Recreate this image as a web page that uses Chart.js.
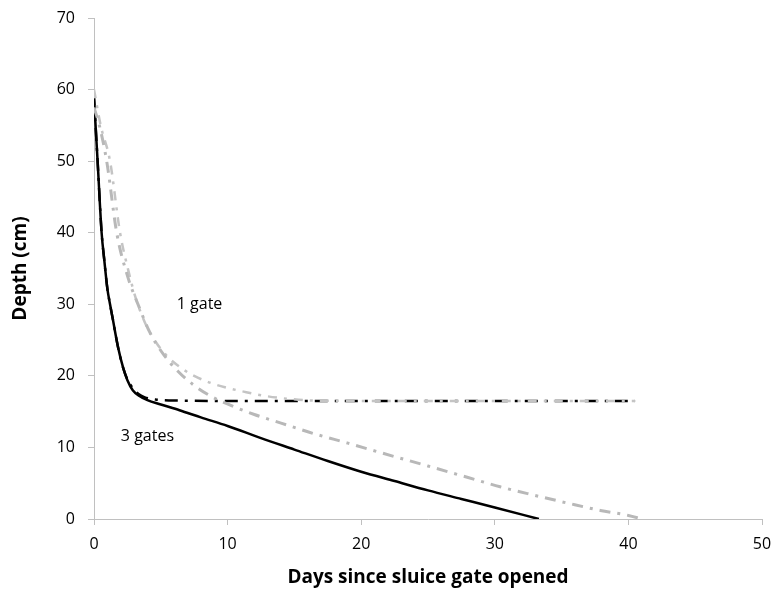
<!DOCTYPE html>
<html><head><meta charset="utf-8">
<script src="https://cdn.jsdelivr.net/npm/chart.js@4"></script>
<style>html,body{margin:0;padding:0;background:#fff}#wrap{width:772px;height:595px}</style>
</head><body><div id="wrap"><canvas id="c" width="772" height="595"></canvas></div>
<script>
// Days since opened / depth (cm)
const solid3Days  = [0, 0.27, 0.57, 0.78, 1.0, 1.2, 1.4, 1.8, 2.2, 2.5, 2.9, 3.4, 4.0, 5.0, 6.4, 8.0, 10, 12.5, 15, 17.5, 20, 22.5, 25, 27.5, 30, 33.3];
const solid3Depth = [58.8, 50, 40, 36, 32.2, 30, 28, 24, 21, 19.4, 18.0, 17.2, 16.6, 16.0, 15.2, 14.2, 13.0, 11.3, 9.7, 8.1, 6.6, 5.3, 4.0, 2.8, 1.6, 0];

const dash3Days  = [0, 0.27, 0.57, 0.78, 1.0, 1.2, 1.4, 1.8, 2.2, 2.5, 2.9, 3.3, 3.8, 4.6, 6, 10, 20, 30, 40.5];
const dash3Depth = [58.8, 50, 40, 36, 32.2, 30, 28, 24, 21, 19.5, 18.3, 17.5, 17.0, 16.7, 16.55, 16.5, 16.5, 16.5, 16.5];

const gray1aDays  = [0, 0.5, 1.2, 1.95, 2.6, 3.1, 3.8, 4.6, 5.5, 6.6, 7.5, 8.6, 9.8, 11.2, 12.8, 14.5, 16.5, 20, 30, 40.5];
const gray1aDepth = [60, 55, 50, 40, 34.5, 31, 27.5, 24.8, 22.7, 21.0, 20.0, 19.1, 18.4, 17.8, 17.2, 16.8, 16.55, 16.5, 16.5, 16.5];

const gray1bDays  = [0, 0.4, 0.95, 1.7, 2.5, 3.4, 4.2, 5.2, 6.3, 7.4, 8.7, 10.2, 12, 14, 16.5, 19, 21.4, 25, 28, 30.4, 33, 35.5, 37.9, 40, 41];
const gray1bDepth = [57.5, 55, 50, 40, 34, 29.5, 26, 23, 20.6, 18.8, 17.2, 15.9, 14.6, 13.4, 11.9, 10.6, 9.3, 7.4, 5.8, 4.5, 3.3, 2.2, 1.2, 0.5, 0];

const xTicks = [0, 10, 20, 30, 40, 50];
const yTicks = [0, 10, 20, 30, 40, 50, 60, 70];

const labels = [
  {text: '1 gate', x: 7.9, y: 30.0},
  {text: '3 gates', x: 4.0, y: 11.6}
];

const pts = (xs, ys) => xs.map((x, i) => ({x: x, y: ys[i]}));

const labelPlugin = {
  id: 'lbl',
  afterDatasetsDraw(chart) {
    const ctx = chart.ctx, xs = chart.scales.x, ys = chart.scales.y;
    ctx.save();
    ctx.font = '16px "Open Sans"';
    ctx.fillStyle = '#000';
    ctx.textAlign = 'center';
    ctx.textBaseline = 'middle';
    labels.forEach(l => ctx.fillText(l.text, xs.getPixelForValue(l.x), ys.getPixelForValue(l.y)));
    ctx.restore();
  }
};

const axisCommon = {
  border: {display: true, color: '#c0c0c0', width: 1},
  grid: {display: true, drawOnChartArea: false, drawTicks: true, tickLength: 6, color: '#c0c0c0'},
  ticks: {color: '#000', font: {family: '"Open Sans"', size: 16}}
};

new Chart(document.getElementById('c'), {
  type: 'line',
  data: {
    datasets: [
      {data: pts(gray1bDays, gray1bDepth), borderColor: '#b8b8b8', borderWidth: 3, borderDash: [11, 7, 3, 7], cubicInterpolationMode: 'monotone', pointRadius: 0, fill: false},
      {data: pts(gray1aDays, gray1aDepth), borderColor: '#c4c4c4', borderWidth: 2.5, borderDash: [9, 7, 3, 7], cubicInterpolationMode: 'monotone', pointRadius: 0, fill: false},
      {data: pts(solid3Days, solid3Depth), borderColor: '#000', borderWidth: 2.5, cubicInterpolationMode: 'monotone', pointRadius: 0, fill: false},
      {data: pts(dash3Days, dash3Depth), borderColor: '#000', borderWidth: 2.5, borderDash: [13, 7, 3, 7], cubicInterpolationMode: 'monotone', pointRadius: 0, fill: false}
    ]
  },
  options: {
    responsive: false,
    animation: false,
    layout: {padding: {top: 18, right: 10, bottom: 2, left: 5}},
    plugins: {legend: {display: false}, tooltip: {enabled: false}},
    scales: {
      x: Object.assign({}, axisCommon, {
        type: 'linear', min: 0, max: 50,
        afterBuildTicks: s => { s.ticks = xTicks.map(v => ({value: v})); },
        ticks: Object.assign({}, axisCommon.ticks, {padding: 10}),
        title: {display: true, text: 'Days since sluice gate opened', color: '#000', font: {family: '"Open Sans"', size: 19, weight: 'bold'}, padding: {top: 4, bottom: 4}},
        afterFit: s => { s.height = 74; s.paddingRight = 0; s.paddingLeft = 0; }
      }),
      y: Object.assign({}, axisCommon, {
        type: 'linear', min: 0, max: 70,
        afterBuildTicks: s => { s.ticks = yTicks.map(v => ({value: v})); },
        ticks: Object.assign({}, axisCommon.ticks, {padding: 13}),
        title: {display: true, text: 'Depth (cm)', color: '#000', font: {family: '"Open Sans"', size: 19, weight: 'bold'}, padding: {top: 4, bottom: 4}},
        afterFit: s => { s.width = 89; s.paddingTop = 0; s.paddingBottom = 0; }
      })
    }
  },
  plugins: [labelPlugin]
});
</script></body></html>
